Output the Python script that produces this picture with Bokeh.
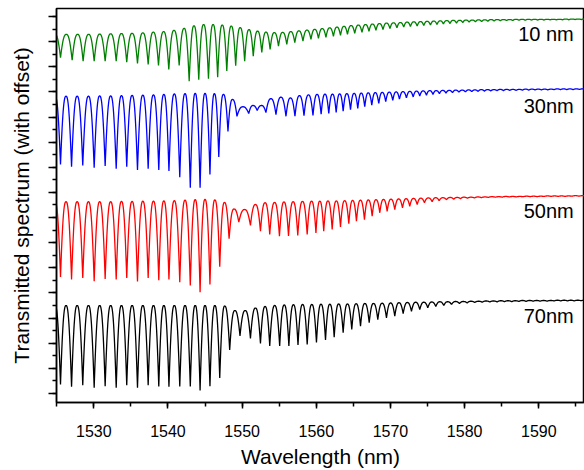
import numpy as np
from bokeh.plotting import figure
from bokeh.models import Range1d, SingleIntervalTicker, Label, CustomJSTickFormatter
from bokeh.embed import file_html
from bokeh.resources import INLINE

FONT = "Liberation Sans"

# ---------------- data ----------------
# dip centres (nm), dip minima and the maxima between successive dips
# (transmission in offset units, one major y tick = 1 unit)
left_dips = [1524.02, 1525.51, 1527.00, 1528.51, 1530.05, 1531.53, 1533.02, 1534.44,
             1535.89, 1537.33, 1538.76, 1540.13, 1541.59, 1543.01, 1544.33, 1545.66]

g_centers = [1524.02, 1525.51, 1527.08, 1528.56, 1530.05, 1531.53, 1533.02, 1534.44,
             1535.89, 1537.33, 1538.72, 1540.11, 1541.51,
             1542.86, 1544.15, 1545.46, 1546.70, 1547.93, 1549.13, 1550.34, 1551.50,
             1552.65, 1553.77, 1554.90,
             1556.02, 1557.10, 1558.20, 1559.28, 1560.29, 1561.30, 1562.31, 1563.26,
             1564.20, 1565.18,
             1566.16, 1567.10, 1568.04, 1568.99, 1569.93, 1570.87, 1571.79, 1572.69,
             1573.60, 1574.49,
             1575.39, 1576.27, 1577.14, 1578.02, 1578.90, 1579.75, 1580.60, 1581.46,
             1582.29, 1583.13,
             1583.97, 1584.81, 1585.65, 1586.49, 1587.33, 1588.17, 1589.01, 1589.85,
             1590.69, 1591.53,
             1592.37, 1593.21, 1594.05, 1594.89, 1595.73, 1596.57]
g_bottoms = [13.36, 13.36, 13.26, 13.22, 13.22, 13.22, 13.22, 13.18, 13.13, 13.09, 13.05,
             12.89, 13.05,
             12.43, 12.49, 12.53, 12.59, 12.83, 13.04, 13.22, 13.42, 13.57, 13.69, 13.82,
             13.89, 13.96, 14.02, 14.09, 14.13, 14.17, 14.21, 14.25, 14.29, 14.33,
             14.37, 14.41, 14.45, 14.48, 14.52, 14.55, 14.58, 14.60, 14.62, 14.64,
             14.66, 14.68, 14.70, 14.72, 14.74, 14.76, 14.78, 14.79, 14.80, 14.81,
             14.82, 14.83, 14.84, 14.84, 14.85, 14.85, 14.86, 14.86, 14.86, 14.87,
             14.87, 14.87, 14.87, 14.88, 14.88, 14.88]
g_peaks = [14.29, 14.29, 14.29, 14.29, 14.30, 14.31, 14.32, 14.33, 14.35, 14.38, 14.40,
           14.45, 14.53,
           14.63, 14.68, 14.68, 14.66, 14.62, 14.56, 14.48, 14.42, 14.38, 14.36, 14.37,
           14.40, 14.43, 14.46, 14.49, 14.52, 14.55, 14.58, 14.61, 14.64, 14.66,
           14.68, 14.70, 14.72, 14.74, 14.75, 14.76, 14.78, 14.79, 14.80, 14.81,
           14.82, 14.83, 14.84, 14.85, 14.85, 14.86, 14.86, 14.87, 14.87, 14.88,
           14.88, 14.88, 14.88, 14.89, 14.89, 14.89, 14.89, 14.89, 14.89, 14.89,
           14.89, 14.90, 14.90, 14.90, 14.90]

b_centers = left_dips + [1546.85,
             1548.09, 1549.30, 1550.89, 1552.03, 1553.21, 1554.56, 1555.91, 1557.12,
             1558.34, 1559.55,
             1560.65, 1561.68, 1562.68, 1563.62, 1564.61, 1565.59, 1566.53, 1567.48,
             1568.42, 1569.36,
             1570.31, 1571.21, 1572.15, 1573.06, 1573.95, 1574.85, 1575.73, 1576.60,
             1577.48, 1578.36, 1579.23,
             1580.11, 1580.96, 1581.81, 1582.67, 1583.52, 1584.37, 1585.23, 1586.08,
             1586.93, 1587.80, 1588.64, 1589.49, 1590.36, 1591.21, 1592.06, 1592.92,
             1593.77, 1594.62, 1595.48, 1596.33]
b_bottoms = [9.11, 9.11, 9.02, 9.07, 8.98, 9.05, 8.94, 9.02, 8.89, 8.94, 8.89, 8.85,
             8.61, 8.19, 8.19, 8.71, 9.41,
             10.43, 11.03, 11.14, 11.26, 11.18, 11.10, 11.03, 11.03, 11.05, 11.06,
             11.11, 11.14, 11.18, 11.23, 11.29, 11.34, 11.41, 11.47, 11.54, 11.61,
             11.66, 11.71, 11.76, 11.80, 11.84, 11.87, 11.90, 11.93, 11.95, 11.97, 11.99,
             12.00, 12.01, 12.02, 12.03, 12.04, 12.05, 12.05, 12.06, 12.06, 12.07,
             12.07, 12.08, 12.08, 12.08, 12.09, 12.09, 12.09, 12.09, 12.10, 12.10]
b_peaks = [11.83, 11.83, 11.83, 11.83, 11.84, 11.84, 11.85, 11.86, 11.87, 11.88, 11.90,
           11.92, 11.93, 11.94, 11.94, 11.93,
           11.90, 11.70, 11.41, 11.46, 11.46, 11.73, 11.79, 11.76, 11.85, 11.88,
           11.90, 11.91, 11.91, 11.92, 11.93, 11.94, 11.95, 11.96, 11.97, 11.98,
           11.99, 12.00, 12.01, 12.02, 12.03, 12.04, 12.05, 12.05, 12.06, 12.06,
           12.07, 12.07, 12.08, 12.08, 12.09, 12.09, 12.09, 12.10, 12.10, 12.10,
           12.10, 12.11, 12.11, 12.11, 12.11, 12.11, 12.12, 12.12, 12.12, 12.12, 12.12]

r_centers = left_dips + [1546.98,
             1548.24, 1549.55, 1551.12, 1552.47, 1553.72, 1555.03, 1556.25, 1557.50,
             1558.77, 1559.95,
             1561.00, 1562.14, 1563.26, 1564.38, 1565.41, 1566.49, 1567.53, 1568.56,
             1569.55, 1570.58,
             1571.62, 1572.60, 1573.60, 1574.58, 1575.62, 1576.56, 1577.55, 1578.53,
             1579.44,
             1580.38, 1581.32, 1582.26, 1583.20, 1584.14, 1585.08, 1586.02, 1586.96,
             1587.90, 1588.84, 1589.78, 1590.72, 1591.66, 1592.60, 1593.54, 1594.48,
             1595.42, 1596.36]
r_bottoms = [4.64, 4.64, 4.54, 4.60, 4.47, 4.56, 4.54, 4.60, 4.46, 4.60, 4.51, 4.54,
             4.43, 4.30, 4.03, 4.34, 5.04,
             6.16, 6.82, 6.69, 6.46, 6.33, 6.26, 6.27, 6.29, 6.33, 6.39,
             6.46, 6.53, 6.63, 6.76, 6.86, 6.92, 7.06, 7.19, 7.25, 7.32,
             7.39, 7.45, 7.52, 7.59, 7.63, 7.67, 7.71, 7.73, 7.75,
             7.77, 7.78, 7.79, 7.80, 7.81, 7.81, 7.82, 7.82, 7.83, 7.83, 7.83, 7.84,
             7.84, 7.84, 7.84, 7.85, 7.85, 7.85]
r_peaks = [7.63, 7.63, 7.63, 7.63, 7.63, 7.63, 7.64, 7.64, 7.65, 7.65, 7.66, 7.67,
           7.69, 7.71, 7.72, 7.70,
           7.60, 7.34, 7.32, 7.52, 7.59, 7.60,
           7.62, 7.63, 7.64, 7.65, 7.65, 7.66, 7.66, 7.67, 7.68, 7.69, 7.70, 7.71,
           7.72, 7.73, 7.74, 7.75, 7.76, 7.77, 7.78, 7.79, 7.79, 7.80, 7.80,
           7.81, 7.81, 7.82, 7.82, 7.83, 7.83, 7.84, 7.84, 7.84, 7.85, 7.85, 7.85,
           7.86, 7.86, 7.86, 7.86, 7.87, 7.87]

k_centers = left_dips + [1546.98,
             1548.32, 1549.71, 1551.12, 1552.47, 1553.72, 1555.06, 1556.30, 1557.53,
             1558.77, 1560.02,
             1561.24, 1562.41, 1563.62, 1564.78, 1565.96, 1567.13, 1568.29, 1569.46,
             1570.58, 1571.71,
             1572.83, 1573.95, 1575.03, 1576.11, 1577.19, 1578.23, 1579.30, 1580.34,
             1581.36, 1582.37, 1583.39, 1584.38, 1585.37, 1586.35, 1587.32, 1588.28,
             1589.24, 1590.18, 1591.11, 1592.08, 1592.96, 1593.87, 1594.77, 1595.69,
             1596.60]
k_bottoms = [0.36, 0.36, 0.27, 0.33, 0.23, 0.29, 0.23, 0.33, 0.23, 0.33, 0.28, 0.27,
             0.28, 0.28, 0.12, 0.29, 0.62,
             1.73, 2.29, 2.19, 1.99, 1.89, 1.89, 1.89, 1.93, 1.95, 2.03,
             2.13, 2.24, 2.42, 2.55, 2.68, 2.82, 2.94, 3.01, 3.08, 3.18,
             3.27, 3.34, 3.41, 3.46, 3.50, 3.54, 3.58, 3.60,
             3.62, 3.63, 3.64, 3.64, 3.65, 3.65, 3.66, 3.66, 3.67, 3.67, 3.67, 3.68,
             3.68, 3.68, 3.68, 3.69, 3.69]
k_peaks = [3.50, 3.50, 3.50, 3.50, 3.50, 3.50, 3.50, 3.50, 3.50, 3.50, 3.50, 3.50,
           3.50, 3.50, 3.50, 3.50,
           3.48, 3.30, 3.30, 3.40, 3.46, 3.50,
           3.52, 3.53, 3.54, 3.54, 3.55, 3.55, 3.56, 3.56, 3.57, 3.58, 3.58, 3.59,
           3.60, 3.61, 3.62, 3.63, 3.63, 3.64, 3.65, 3.65, 3.66, 3.66,
           3.67, 3.67, 3.68, 3.68, 3.69, 3.69, 3.69, 3.70, 3.70, 3.70, 3.70, 3.70,
           3.71, 3.71, 3.71, 3.71, 3.71]

series = [
    ("10 nm", g_centers, g_bottoms, g_peaks, "#008000"),
    ("30nm", b_centers, b_bottoms, b_peaks, "#0000FF"),
    ("50nm", r_centers, r_bottoms, r_peaks, "#FF0000"),
    ("70nm", k_centers, k_bottoms, k_peaks, "#000000"),
]

x_tick_interval = 10


def trace(centers, bottoms, peaks, n=40, gamma=1.3):
    """Line through the read dips and maxima (arch between two dips)."""
    c = np.asarray(centers, float)
    b = np.asarray(bottoms, float)
    pk = np.asarray(peaks, float)
    xs, ys = [], []
    t = 0.5 - 0.5 * np.cos(np.linspace(0.0, np.pi, n, endpoint=False))
    for k in range(len(c) - 1):
        lam = c[k] + t * (c[k + 1] - c[k])
        u = np.where(t < 0.5, t, 1.0 - t)
        s = (1.0 - np.sin(np.pi * u)) ** gamma
        bot = np.where(t < 0.5, b[k], b[k + 1])
        xs.append(lam)
        ys.append(pk[k] - (pk[k] - bot) * s)
    xs.append([c[-1]])
    ys.append([b[-1]])
    return np.concatenate(xs), np.concatenate(ys)


p = figure(width=584, height=470, output_backend="svg", toolbar_location=None,
           x_range=Range1d(1524.97, 1596.16), y_range=Range1d(-0.36, 15.32),
           min_border_left=56, min_border_right=0, min_border_top=8,
           min_border_bottom=67)
p.background_fill_color = "white"
p.border_fill_color = "white"
p.outline_line_color = "black"
p.outline_line_width = 1.5
p.xgrid.visible = False
p.ygrid.visible = False

for name, c, b, pk, col in series:
    x, y = trace(c, b, pk)
    p.line(x, y, line_color=col, line_width=1.3)

# curve labels
label_pos = {"10 nm": 14.29, "30nm": 11.43, "50nm": 7.25, "70nm": 3.08}
for name, c, b, pk, col in series:
    p.add_layout(Label(x=1594.71, y=label_pos[name], text=name, text_align="right",
                       text_baseline="middle", text_font=FONT,
                       text_font_size="20px", text_color="black"))

xa = p.xaxis[0]
xa.ticker = SingleIntervalTicker(interval=x_tick_interval, num_minor_ticks=2)
xa.axis_label = "Wavelength (nm)"
xa.axis_label_text_font = FONT
xa.axis_label_text_font_size = "21px"
xa.axis_label_text_font_style = "normal"
xa.axis_label_standoff = 5
xa.major_label_text_font = FONT
xa.major_label_text_font_size = "16px"
xa.major_label_standoff = 16
xa.major_tick_out = 6
xa.major_tick_in = 0
xa.minor_tick_out = 4
xa.minor_tick_in = 0
xa.axis_line_width = 1.5
xa.major_tick_line_width = 1.5
xa.minor_tick_line_width = 1.5

ya = p.yaxis[0]
ya.ticker = SingleIntervalTicker(interval=1, num_minor_ticks=2)
ya.formatter = CustomJSTickFormatter(code="return ''")
ya.axis_label = "Transmitted spectrum (with offset)"
ya.axis_label_text_font = FONT
ya.axis_label_text_font_size = "21px"
ya.axis_label_text_font_style = "normal"
ya.axis_label_standoff = 16
ya.major_label_standoff = 0
ya.major_tick_out = 8
ya.major_tick_in = 0
ya.minor_tick_out = 4
ya.minor_tick_in = 0
ya.axis_line_width = 1.5
ya.major_tick_line_width = 1.5
ya.minor_tick_line_width = 1.5

for ax in (xa, ya):
    ax.axis_line_color = "black"
    ax.major_tick_line_color = "black"
    ax.minor_tick_line_color = "black"
    ax.major_label_text_color = "black"
    ax.axis_label_text_color = "black"

open("out.html", "w").write(file_html(p, INLINE))
